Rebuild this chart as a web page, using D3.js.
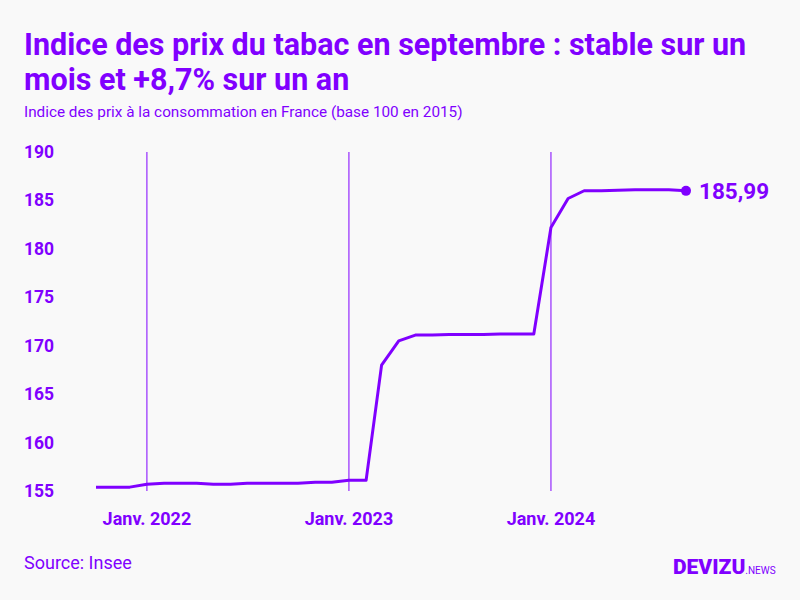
<!DOCTYPE html><html><head><meta charset="utf-8"><script src="https://cdn.jsdelivr.net/npm/d3@7"></script>
<style>body{margin:0;background:#f9f9f9}svg{font-family:Roboto,sans-serif}</style></head><body><svg width="800" height="600"></svg>
<script>
const months = d3.range(36).map(i => new Date(2021, 9 + i, 1));
const values = [155.4,155.4,155.4,155.7,155.8,155.8,155.8,155.7,155.7,155.8,155.8,155.8,155.8,155.9,155.9,156.1,156.1,168.0,170.5,171.1,171.1,171.15,171.15,171.15,171.2,171.2,171.2,182.2,185.2,186.0,186.0,186.05,186.1,186.1,186.1,185.99];
const yTicks = [155,160,165,170,175,180,185,190];
const xTicks = [new Date(2022,0,1), new Date(2023,0,1), new Date(2024,0,1)];
const xLabels = ["Janv. 2022","Janv. 2023","Janv. 2024"];
const C = "#8000ff";
const svg = d3.select("svg");
svg.append("rect").attr("width",800).attr("height",600).attr("fill","#f9f9f9");
const x = d3.scaleTime().domain([months[0], months[35]]).range([96, 686]);
const y = d3.scaleLinear().domain([155,190]).range([491,152]);
svg.append("text").attr("x",24).attr("y",55).attr("font-size",30.5).attr("font-weight",700).attr("fill",C).text("Indice des prix du tabac en septembre : stable sur un");
svg.append("text").attr("x",24).attr("y",90).attr("font-size",30.5).attr("font-weight",700).attr("fill",C).text("mois et +8,7% sur un an");
svg.append("text").attr("x",24).attr("y",117).attr("font-size",15.3).attr("fill",C).text("Indice des prix à la consommation en France (base 100 en 2015)");
xTicks.forEach((d,i)=>{
  svg.append("line").attr("x1",x(d)).attr("x2",x(d)).attr("y1",152).attr("y2",491).attr("stroke",C).attr("stroke-width",1);
  svg.append("text").attr("x",x(d)).attr("y",525).attr("text-anchor","middle").attr("font-size",18).attr("font-weight",700).attr("fill",C).text(xLabels[i]);
});
yTicks.forEach(t=>svg.append("text").attr("x",24).attr("y",y(t)+6).attr("font-size",17.5).attr("font-weight",700).attr("fill",C).text(t));
svg.append("path").datum(values).attr("fill","none").attr("stroke",C).attr("stroke-width",3).attr("stroke-linejoin","round")
  .attr("d", d3.line().x((d,i)=>x(months[i])).y(d=>y(d)));
svg.append("circle").attr("cx",x(months[35])).attr("cy",y(values[35])).attr("r",5).attr("fill",C);
svg.append("text").attr("x",699).attr("y",y(values[35])+8).attr("font-size",22.5).attr("font-weight",700).attr("fill",C).text("185,99");
svg.append("text").attr("x",24).attr("y",569).attr("font-size",18).attr("fill",C).text("Source: Insee");
const lg = svg.append("text").attr("x",673).attr("y",574).attr("fill",C);
lg.append("tspan").attr("font-size",21).attr("font-weight",900).text("DEVIZU");
lg.append("tspan").attr("font-size",10).text(".NEWS");
</script></body></html>
